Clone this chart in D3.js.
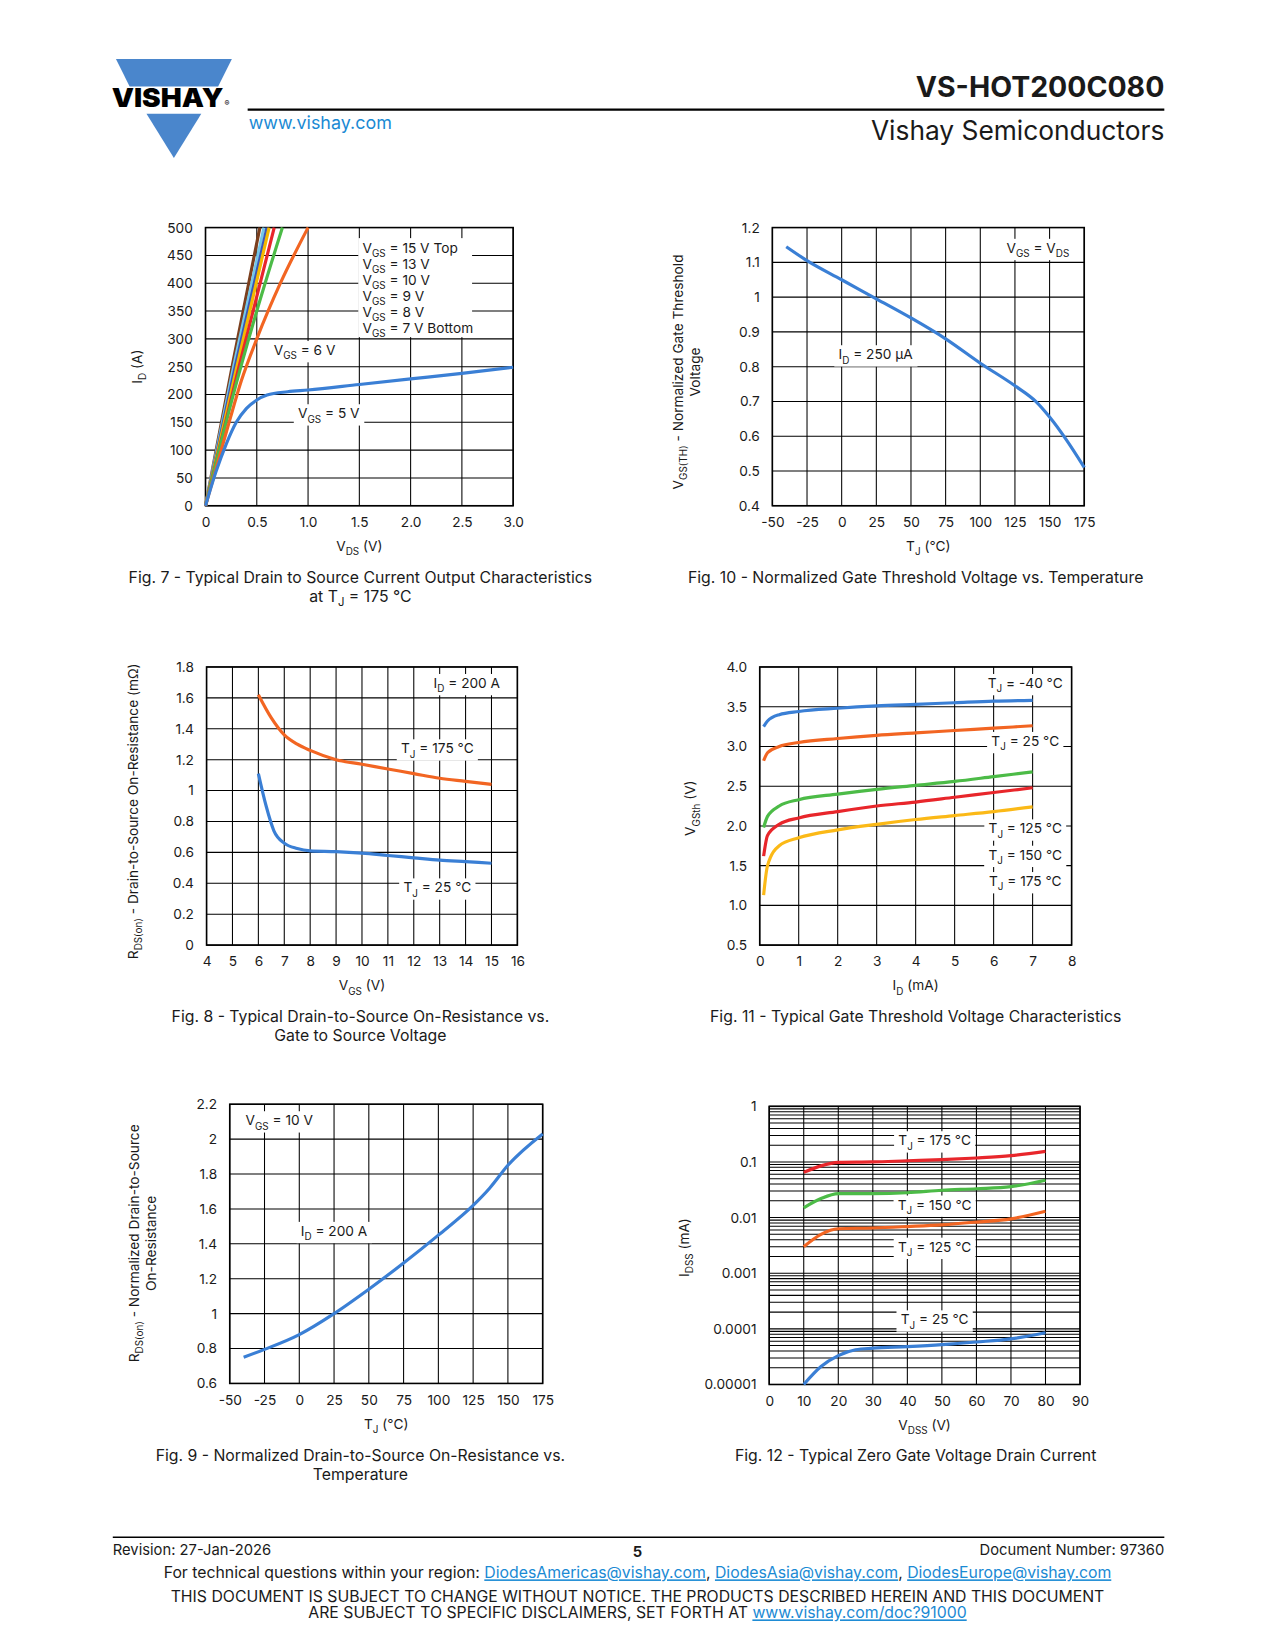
<!DOCTYPE html>
<html><head><meta charset="utf-8">
<script src="https://cdn.jsdelivr.net/npm/d3@7"></script>
<style>body{margin:0;background:#fff}text{font-family:Inter,"Liberation Sans",Arial,sans-serif;fill:#1a1a1a}</style>
</head><body>
<svg id="page" width="1275" height="1650" viewBox="0 0 1210 1566"></svg>
<script>
var svg = d3.select("#page");
var BLUE = "#3a7fd5";

// text with "_{sub}" markers
function rich(g, x, y, str, opts) {
  opts = opts || {};
  var t = g.append("text").attr("x", x).attr("y", y)
    .attr("font-size", opts.size || 13)
    .attr("text-anchor", opts.anchor || "start");
  if (opts.rotate) t.attr("transform", "rotate(-90," + x + "," + y + ")");
  var parts = str.split(/(_\{[^}]*\})/).filter(p => p);
  var down = false;
  parts.forEach(function(p) {
    if (p.indexOf("_{") == 0) {
      t.append("tspan").attr("font-size", (opts.size || 13) * 0.72).attr("dy", 4).text(p.slice(2, -1));
      down = true;
    } else {
      var s = t.append("tspan").text(p);
      if (down) { s.attr("dy", -4); down = false; }
    }
  });
  return t;
}

function label(g, x, y, str) {
  // white box behind curve labels
  var t = rich(g, x, y, str, {anchor: "middle"});
  var b = t.node().getBBox();
  g.insert("rect", function() { return t.node(); }).attr("x", b.x - 4).attr("y", b.y - 1)
    .attr("width", b.width + 8).attr("height", b.height + 2).attr("fill", "#fff");
}

function chart(cfg) {
  var g = svg.append("g");
  var x = d3.scaleLinear().domain(cfg.xd).range([cfg.x0, cfg.x1]);
  var y = (cfg.log ? d3.scaleLog() : d3.scaleLinear()).domain(cfg.yd).range([cfg.y1, cfg.y0]);

  // grid
  var xg = d3.range(cfg.xd[0], cfg.xd[1] + cfg.xs / 2, cfg.xs);
  g.selectAll(".vx").data(xg).enter().append("line")
    .attr("x1", d => x(d)).attr("x2", d => x(d)).attr("y1", cfg.y0).attr("y2", cfg.y1)
    .attr("stroke", "#000").attr("stroke-width", 1);
  var yg;
  if (cfg.log) {
    yg = [];
    for (var k = -5; k < 0; k++) for (var m = 1; m < 10; m++) yg.push(m * Math.pow(10, k));
    yg.push(1);
  } else yg = d3.range(cfg.yd[0], cfg.yd[1] + cfg.ys / 2, cfg.ys);
  g.selectAll(".hy").data(yg).enter().append("line")
    .attr("y1", d => y(d)).attr("y2", d => y(d)).attr("x1", cfg.x0).attr("x2", cfg.x1)
    .attr("stroke", "#000").attr("stroke-width", 1);
  g.append("rect").attr("x", cfg.x0).attr("y", cfg.y0).attr("width", cfg.x1 - cfg.x0)
    .attr("height", cfg.y1 - cfg.y0).attr("fill", "none").attr("stroke", "#000").attr("stroke-width", 1.5);

  // axes (labels only)
  var xa = g.append("g").attr("transform", "translate(0," + (cfg.y1 + 8) + ")")
    .call(d3.axisBottom(x).tickValues(cfg.xticks || xg).tickSize(0).tickFormat(cfg.xf || (d => d)));
  var ya = g.append("g").attr("transform", "translate(" + (cfg.x0 - 9) + ",0)")
    .call(d3.axisLeft(y).tickValues(cfg.yticks || yg).tickSize(0).tickFormat(cfg.yf || (d => d)));
  [xa, ya].forEach(function(a) {
    a.select(".domain").remove();
    a.selectAll("text").attr("font-size", 13).attr("fill", "#1a1a1a")
      .attr("font-family", "Inter, 'Liberation Sans', Arial, sans-serif");
  });

  // curves
  var line = d3.line().x(d => x(d[0])).y(d => y(d[1])).curve(d3.curveMonotoneX);
  cfg.series.forEach(function(s) {
    g.append("path").datum(s.pts).attr("d", line).attr("fill", "none")
      .attr("stroke", s.color).attr("stroke-width", 3);
  });
  (cfg.labels || []).forEach(function(l) { label(g, l[0], l[1], l[2]); });

  rich(g, (cfg.x0 + cfg.x1) / 2, cfg.y1 + 43, cfg.xlabel, {anchor: "middle"});
  cfg.ylabel.forEach(function(l) { rich(g, l[0], l[1], l[2], {anchor: "middle", rotate: true}); });
  cfg.caption.forEach(function(c) { rich(g, c[0], c[1], c[2], {anchor: "middle", size: 15}); });
  return g;
}

// Fig. 7
chart({
  x0: 195, x1: 487, y0: 216, y1: 480, xd: [0, 3], xs: 0.5, yd: [0, 500], ys: 50,
  xf: d => d == 0 ? "0" : d3.format(".1f")(d),
  xlabel: "V_{DS} (V)", ylabel: [[135, 348, "I_{D} (A)"]],
  caption: [[342, 553, "Fig. 7 - Typical Drain to Source Current Output Characteristics"], [342, 571, "at T_{J} = 175 °C"]],
  series: [
    {color: "#7b3f1e", pts: [[0, 0], [0.27, 260], [0.53, 500]]},
    {color: "#74c7e8", pts: [[0, 0], [0.28, 255], [0.57, 500]]},
    {color: "#3a56b8", pts: [[0, 0], [0.29, 250], [0.6, 500]]},
    {color: "#f5b800", pts: [[0, 0], [0.3, 245], [0.62, 500]]},
    {color: "#e8262b", pts: [[0, 0], [0.32, 245], [0.67, 500]]},
    {color: "#4cbb47", pts: [[0, 0], [0.25, 185], [0.5, 350], [0.75, 500]]},
    {color: "#f26522", pts: [[0, 0], [0.1, 65], [0.23, 150], [0.35, 225], [0.5, 300], [0.73, 400], [1.0, 500]]},
    {color: BLUE, pts: [[0, 0], [0.1, 60], [0.2, 110], [0.3, 150], [0.4, 175], [0.5, 190], [0.6, 199], [0.8, 205], [1.0, 208], [1.5, 218], [2.0, 228], [2.5, 238], [3.0, 249]]}
  ],
  labels: []
});
(function() {
  var g = svg.append("g");
  var lines = ["V_{GS} = 15 V Top", "V_{GS} = 13 V", "V_{GS} = 10 V", "V_{GS} = 9 V", "V_{GS} = 8 V", "V_{GS} = 7 V Bottom"];
  g.append("rect").attr("x", 340).attr("y", 226).attr("width", 108).attr("height", 94).attr("fill", "#fff");
  lines.forEach(function(l, i) { rich(g, 344, 240 + i * 15.2, l); });
  label(g, 289, 337, "V_{GS} = 6 V");
  label(g, 312, 397, "V_{GS} = 5 V");
})();

// Fig. 10
chart({
  x0: 733, x1: 1029, y0: 216, y1: 480, xd: [-50, 175], xs: 25, yd: [0.4, 1.2], ys: 0.1,
  yf: d => d3.format(".2~f")(d),
  xlabel: "T_{J} (°C)", ylabel: [[648, 353, "V_{GS(TH)} - Normalized Gate Threshold"], [664, 353, "Voltage"]],
  caption: [[869, 553, "Fig. 10 - Normalized Gate Threshold Voltage vs. Temperature"]],
  series: [{color: BLUE, pts: [[-40, 1.145], [-25, 1.105], [0, 1.05], [25, 0.995], [50, 0.94], [75, 0.88], [100, 0.81], [125, 0.745], [140, 0.7], [150, 0.655], [162, 0.59], [175, 0.51]]}],
  labels: [[985, 240, "V_{GS} = V_{DS}"], [831, 341, "I_{D} = 250 µA"]]
});

// Fig. 8
chart({
  x0: 196, x1: 491, y0: 633, y1: 897, xd: [4, 16], xs: 1, yd: [0, 1.8], ys: 0.2,
  yf: d => d3.format(".2~f")(d),
  xlabel: "V_{GS} (V)", ylabel: [[131, 770, "R_{DS(on)} - Drain-to-Source On-Resistance (mΩ)"]],
  caption: [[342, 970, "Fig. 8 - Typical Drain-to-Source On-Resistance vs."], [342, 988, "Gate to Source Voltage"]],
  series: [
    {color: "#f26522", pts: [[6, 1.62], [6.5, 1.47], [7, 1.36], [7.5, 1.3], [8, 1.26], [9, 1.2], [10, 1.17], [11, 1.14], [12, 1.11], [13, 1.08], [14, 1.06], [15, 1.04]]},
    {color: BLUE, pts: [[6, 1.11], [6.3, 0.9], [6.6, 0.74], [7, 0.66], [7.5, 0.625], [8, 0.61], [9, 0.605], [10, 0.595], [11, 0.58], [12, 0.565], [13, 0.55], [14, 0.54], [15, 0.53]]}
  ],
  labels: [[443, 653, "I_{D} = 200 A"], [415, 715, "T_{J} = 175 °C"], [415, 847, "T_{J} = 25 °C"]]
});

// Fig. 11
chart({
  x0: 721, x1: 1017, y0: 633, y1: 897, xd: [0, 8], xs: 1, yd: [0.5, 4.0], ys: 0.5,
  yf: d => d3.format(".1f")(d),
  xlabel: "I_{D} (mA)", ylabel: [[660, 767, "V_{GSth} (V)"]],
  caption: [[869, 970, "Fig. 11 - Typical Gate Threshold Voltage Characteristics"]],
  series: [
    {color: BLUE, pts: [[0.1, 3.25], [0.2, 3.32], [0.5, 3.4], [1, 3.44], [2, 3.48], [3, 3.51], [4, 3.53], [5, 3.55], [6, 3.57], [7, 3.58]]},
    {color: "#f26522", pts: [[0.1, 2.82], [0.2, 2.92], [0.5, 3.0], [1, 3.05], [2, 3.1], [3, 3.14], [4, 3.17], [5, 3.2], [6, 3.23], [7, 3.26]]},
    {color: "#4cbb47", pts: [[0.1, 1.98], [0.2, 2.12], [0.5, 2.25], [1, 2.33], [2, 2.4], [3, 2.46], [4, 2.51], [5, 2.56], [6, 2.62], [7, 2.68]]},
    {color: "#e8262b", pts: [[0.1, 1.62], [0.2, 1.88], [0.5, 2.02], [1, 2.1], [2, 2.18], [3, 2.25], [4, 2.3], [5, 2.36], [6, 2.42], [7, 2.48]]},
    {color: "#fbb917", pts: [[0.1, 1.13], [0.2, 1.5], [0.5, 1.75], [1, 1.85], [2, 1.95], [3, 2.02], [4, 2.08], [5, 2.13], [6, 2.18], [7, 2.24]]}
  ],
  labels: [[973, 653, "T_{J} = -40 °C"], [973, 708, "T_{J} = 25 °C"], [973, 791, "T_{J} = 125 °C"], [973, 816, "T_{J} = 150 °C"], [973, 841, "T_{J} = 175 °C"]]
});

// Fig. 9
chart({
  x0: 218, x1: 515, y0: 1048, y1: 1313, xd: [-50, 175], xs: 25, yd: [0.6, 2.2], ys: 0.2,
  yf: d => d3.format(".2~f")(d),
  xlabel: "T_{J} (°C)", ylabel: [[132, 1180, "R_{DS(on)} - Normalized Drain-to-Source"], [148, 1180, "On-Resistance"]],
  caption: [[342, 1387, "Fig. 9 - Normalized Drain-to-Source On-Resistance vs."], [342, 1405, "Temperature"]],
  series: [{color: BLUE, pts: [[-40, 0.75], [-25, 0.795], [0, 0.88], [25, 1.0], [50, 1.14], [75, 1.29], [100, 1.45], [125, 1.62], [137, 1.72], [150, 1.85], [175, 2.03]]}],
  labels: [[265, 1068, "V_{GS} = 10 V"], [317, 1173, "I_{D} = 200 A"]]
});

// Fig. 12
chart({
  x0: 730, x1: 1025, y0: 1050, y1: 1314, xd: [0, 90], xs: 10, yd: [1e-5, 1], log: true,
  yticks: [1e-5, 1e-4, 1e-3, 1e-2, 0.1, 1], yf: d => ["0.00001", "0.0001", "0.001", "0.01", "0.1", "1"][Math.round(Math.log10(d)) + 5],
  xlabel: "V_{DSS} (V)", ylabel: [[654, 1184, "I_{DSS} (mA)"]],
  caption: [[869, 1387, "Fig. 12 - Typical Zero Gate Voltage Drain Current"]],
  series: [
    {color: "#e8262b", pts: [[10, 0.065], [15, 0.085], [20, 0.098], [30, 0.1], [40, 0.105], [50, 0.11], [60, 0.118], [70, 0.13], [80, 0.155]]},
    {color: "#4cbb47", pts: [[10, 0.015], [15, 0.022], [20, 0.027], [30, 0.027], [40, 0.028], [50, 0.031], [60, 0.033], [70, 0.036], [80, 0.047]]},
    {color: "#f26522", pts: [[10, 0.003], [15, 0.005], [20, 0.0063], [30, 0.0065], [40, 0.0069], [50, 0.0074], [60, 0.0083], [70, 0.0095], [80, 0.013]]},
    {color: BLUE, pts: [[10, 1e-5], [15, 2.1e-5], [20, 3.3e-5], [25, 4.2e-5], [30, 4.5e-5], [40, 4.8e-5], [50, 5.2e-5], [60, 5.8e-5], [70, 6.6e-5], [80, 8.5e-5]]}
  ],
  labels: [[887, 1087, "T_{J} = 175 °C"], [887, 1148, "T_{J} = 150 °C"], [887, 1188, "T_{J} = 125 °C"], [887, 1257, "T_{J} = 25 °C"]]
});

// header
svg.append("polygon").attr("points", "110,56 220,56 207,82 123,82").attr("fill", "#4a86cc");
svg.append("polygon").attr("points", "139,108 191,108 165,150").attr("fill", "#4a86cc");
svg.append("text").attr("x", 106).attr("y", 102).attr("font-size", 25).attr("font-weight", 900)
  .attr("textLength", 106).attr("lengthAdjust", "spacingAndGlyphs").style("fill", "#000").text("VISHAY");
svg.append("text").attr("x", 213).attr("y", 101).attr("font-size", 7).style("fill", "#000").text("®");
svg.append("line").attr("x1", 235).attr("x2", 1105).attr("y1", 104).attr("y2", 104).attr("stroke", "#000").attr("stroke-width", 2);
svg.append("text").attr("x", 1105).attr("y", 92).attr("text-anchor", "end").attr("font-size", 27).attr("font-weight", 700).text("VS-HOT200C080");
svg.append("text").attr("x", 236).attr("y", 122).attr("font-size", 17).style("fill", "#1a8ad4").text("www.vishay.com");
svg.append("text").attr("x", 1105).attr("y", 133).attr("text-anchor", "end").attr("font-size", 25).text("Vishay Semiconductors");

// footer
svg.append("line").attr("x1", 107).attr("x2", 1105).attr("y1", 1459).attr("y2", 1459).attr("stroke", "#000").attr("stroke-width", 1.5);
svg.append("text").attr("x", 107).attr("y", 1476).attr("font-size", 14).text("Revision: 27-Jan-2026");
svg.append("text").attr("x", 605).attr("y", 1478).attr("text-anchor", "middle").attr("font-size", 14).attr("font-weight", 700).text("5");
svg.append("text").attr("x", 1105).attr("y", 1476).attr("text-anchor", "end").attr("font-size", 14).text("Document Number: 97360");
var f2 = svg.append("text").attr("x", 605).attr("y", 1498).attr("text-anchor", "middle").attr("font-size", 15);
[["For technical questions within your region: ", 0], ["DiodesAmericas@vishay.com", 1], [", ", 0], ["DiodesAsia@vishay.com", 1], [", ", 0], ["DiodesEurope@vishay.com", 1]]
  .forEach(function(p) {
    var s = f2.append("tspan").text(p[0]);
    if (p[1]) s.style("fill", "#1a8ad4").attr("text-decoration", "underline");
  });
svg.append("text").attr("x", 605).attr("y", 1520).attr("text-anchor", "middle").attr("font-size", 15)
  .text("THIS DOCUMENT IS SUBJECT TO CHANGE WITHOUT NOTICE. THE PRODUCTS DESCRIBED HEREIN AND THIS DOCUMENT");
var f4 = svg.append("text").attr("x", 605).attr("y", 1536).attr("text-anchor", "middle").attr("font-size", 15);
f4.append("tspan").text("ARE SUBJECT TO SPECIFIC DISCLAIMERS, SET FORTH AT ");
f4.append("tspan").style("fill", "#1a8ad4").attr("text-decoration", "underline").text("www.vishay.com/doc?91000");
</script>
</body></html>
